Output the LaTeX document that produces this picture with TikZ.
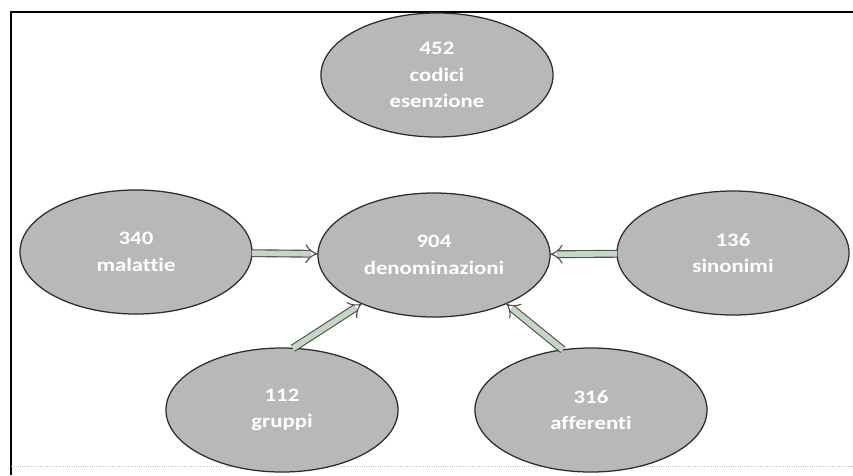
\documentclass[tikz,border=0pt]{standalone}
\usepackage{fontspec}
\usepackage{tikz}
\usetikzlibrary{arrows.meta}
\usetikzlibrary{shapes,patterns}
\newfontfamily\nodefont[FakeStretch=1.2,Ligatures=NoCommon]{Carlito}
\definecolor{node_gray}{RGB}{184,184,184}
\definecolor{edge_gray}{RGB}{45,45,45}
\definecolor{arrow_green}{RGB}{196,214,196}
\definecolor{arrow_gray}{RGB}{80,80,80}
\definecolor{frame_gray}{RGB}{190,190,190}

\begin{document}
\begin{tikzpicture}[x=0.025cm,y=-0.025cm,semithick]
    \tikzstyle{count}=[draw=edge_gray, ellipse, line width=0.9pt, fill=node_gray, text=white,
      minimum width=5.8cm, minimum height=3.1cm, inner sep=0pt, outer sep=0pt, align=center,
      font=\nodefont\bfseries\fontsize{13.5}{19}\selectfont]
    \tikzstyle{feed}=[draw=arrow_gray, double=arrow_green, double distance=4pt, line width=0.8pt, -{Implies}]

    \useasboundingbox (0,0) rectangle (853,475);
    \draw[line width=1.2pt] (11,475) -- (11,12) -- (853,12);
    \draw[frame_gray, densely dotted] (11,466) -- (853,466);

    \node[count] (cod) at (437,75)  {452\\codici\\esenzione};
    \node[count] (mal) at (136,252) {340\\malattie};
    \node[count] (den) at (434,255) {904\\denominazioni};
    \node[count] (sin) at (733,253) {136\\sinonimi};
    \node[count] (gru) at (282,410) {112\\gruppi};
    \node[count] (aff) at (591,410) {316\\afferenti};

    \path
     (mal) edge[feed] (den)
     (sin) edge[feed] (den)
     (gru.80) edge[feed] (den.214)
     (aff.115) edge[feed] (den.326);
  \end{tikzpicture}
\end{document}
